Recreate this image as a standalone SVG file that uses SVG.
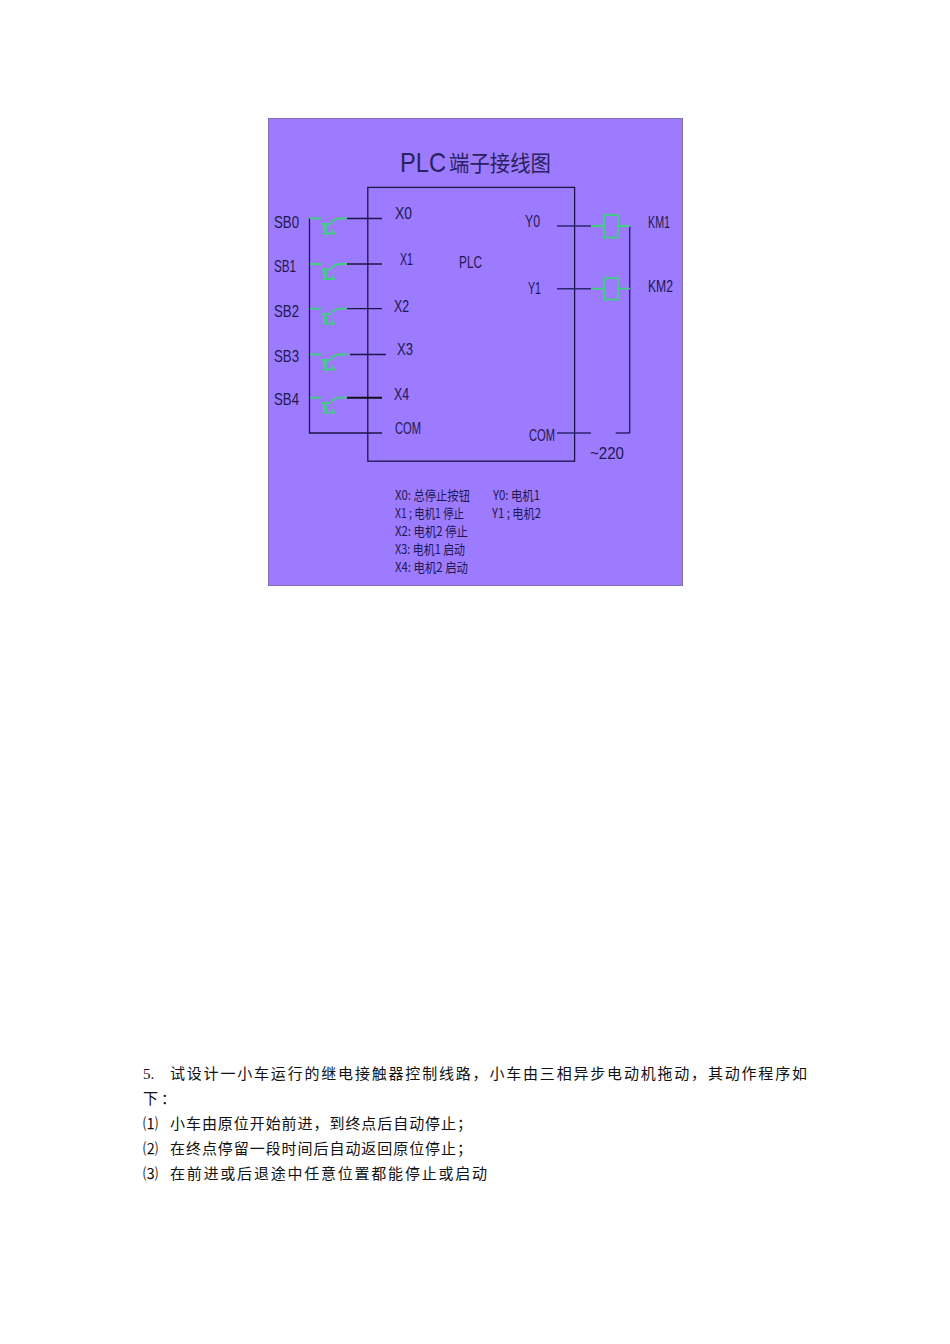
<svg xmlns="http://www.w3.org/2000/svg" width="950" height="1344" viewBox="0 0 950 1344">
<style>
.w{fill:none;stroke:#1c1648;stroke-width:1.3}
.g{fill:none;stroke:#3fd07e;stroke-width:1.8}
.l{font-family:"Liberation Sans","Noto Sans CJK SC",sans-serif;font-size:17px;fill:#1e1850}
.s{font-family:"Noto Sans CJK SC","Liberation Sans",sans-serif;font-size:13px;fill:#1e1850}
.t{font-family:"Liberation Serif","Noto Sans CJK SC",serif;font-size:15px;fill:#111}
</style>
<defs>
<g id="sw">
<path class="g" d="M310 0H321M331 4Q336 0 340 0H347M321 5.5H331M324 5.5V15H335M326 7V13M333 11V15"/>
</g>
</defs>
<rect width="950" height="1344" fill="#fff"/>
<rect id="panel" x="268.5" y="118.5" width="414" height="467" fill="#9c7bff" stroke="#7f70a8"/>
<g id="title" font-size="28" fill="#2a2260">
<text x="400" y="172" font-family="'Liberation Sans',sans-serif" textLength="46" lengthAdjust="spacingAndGlyphs">PLC</text>
<text x="449" y="171" font-family="'Noto Sans CJK SC',sans-serif" font-size="22" textLength="102" lengthAdjust="spacingAndGlyphs">端子接线图</text>
</g>
<g id="plc"><rect class="w" x="367.8" y="187.4" width="206.8" height="273.8"/><text class="l" x="459" y="268" textLength="23" lengthAdjust="spacingAndGlyphs">PLC</text></g>
<g id="connectors">
<path class="w" d="M309.5 218.5V433H382M347 218.5H382M347 264H382M347 308.7H382M350 354.5H386"/>
<path class="w" d="M347 397.7H382" style="stroke-width:2;stroke:#111"/>
<path class="w" d="M557 226H591M557 288.7H591M557 433H591M615.7 433H630M629.7 226V433" style="stroke:#2e2570;stroke-width:1.5"/>
<path class="g" d="M591 226H604M618 226H630M591 288.7H604M618 288.7H630"/>
</g>
<g id="SB0"><use href="#sw" y="218.5"/><text class="l" x="274" y="228" textLength="25" lengthAdjust="spacingAndGlyphs">SB0</text></g>
<g id="SB1"><use href="#sw" y="264"/><text class="l" x="274" y="272" textLength="22" lengthAdjust="spacingAndGlyphs">SB1</text></g>
<g id="SB2"><use href="#sw" y="308.7"/><text class="l" x="274" y="317" textLength="25" lengthAdjust="spacingAndGlyphs">SB2</text></g>
<g id="SB3"><use href="#sw" y="354.5"/><text class="l" x="274" y="362" textLength="25" lengthAdjust="spacingAndGlyphs">SB3</text></g>
<g id="SB4"><use href="#sw" y="397.7"/><text class="l" x="274" y="405" textLength="25" lengthAdjust="spacingAndGlyphs">SB4</text></g>
<g id="terminals">
<text class="l" x="395" y="219" textLength="17" lengthAdjust="spacingAndGlyphs">X0</text>
<text class="l" x="400" y="265" textLength="13" lengthAdjust="spacingAndGlyphs">X1</text>
<text class="l" x="394" y="312" textLength="15" lengthAdjust="spacingAndGlyphs">X2</text>
<text class="l" x="397" y="355" textLength="16" lengthAdjust="spacingAndGlyphs">X3</text>
<text class="l" x="394" y="400" textLength="15" lengthAdjust="spacingAndGlyphs">X4</text>
<text class="l" x="395" y="434" textLength="26" lengthAdjust="spacingAndGlyphs">COM</text>
<text class="l" x="525" y="227" textLength="15" lengthAdjust="spacingAndGlyphs">Y0</text>
<text class="l" x="528" y="294" textLength="13" lengthAdjust="spacingAndGlyphs">Y1</text>
<text class="l" x="529" y="441" textLength="26" lengthAdjust="spacingAndGlyphs">COM</text>
</g>
<g id="KM1"><rect class="g" x="604.3" y="215" width="13.5" height="22.5"/><text class="l" x="648" y="228" textLength="22" lengthAdjust="spacingAndGlyphs">KM1</text></g>
<g id="KM2"><rect class="g" x="604.3" y="278" width="13.5" height="21.5"/><text class="l" x="648" y="292" textLength="25" lengthAdjust="spacingAndGlyphs">KM2</text></g>
<text class="l" x="590" y="459" textLength="34" lengthAdjust="spacingAndGlyphs">~220</text>
<g id="legend">
<text class="s" x="395" y="500" textLength="75" lengthAdjust="spacingAndGlyphs">X0: 总停止按钮</text>
<text class="s" x="395" y="518" textLength="69" lengthAdjust="spacingAndGlyphs">X1 ; 电机1 停止</text>
<text class="s" x="395" y="536" textLength="73" lengthAdjust="spacingAndGlyphs">X2: 电机2 停止</text>
<text class="s" x="395" y="554" textLength="70" lengthAdjust="spacingAndGlyphs">X3: 电机1 启动</text>
<text class="s" x="395" y="572" textLength="73" lengthAdjust="spacingAndGlyphs">X4: 电机2 启动</text>
<text class="s" x="493" y="500" textLength="47" lengthAdjust="spacingAndGlyphs">Y0: 电机1</text>
<text class="s" x="492" y="518" textLength="49" lengthAdjust="spacingAndGlyphs">Y1 ; 电机2</text>
</g>
<g id="body">
<text class="t" x="143" y="1079">5.</text>
<text class="t" x="170" y="1079" textLength="637">试设计一小车运行的继电接触器控制线路，小车由三相异步电动机拖动，其动作程序如</text>
<text class="t" x="143" y="1104" textLength="33">下：</text>
<text class="t" x="143" y="1129" font-size="13">⑴</text>
<text class="t" x="170" y="1129" textLength="302">小车由原位开始前进，到终点后自动停止；</text>
<text class="t" x="143" y="1154" font-size="13">⑵</text>
<text class="t" x="170" y="1154" textLength="302">在终点停留一段时间后自动返回原位停止；</text>
<text class="t" x="143" y="1179" font-size="13">⑶</text>
<text class="t" x="170" y="1179" textLength="317">在前进或后退途中任意位置都能停止或启动</text>
</g>
</svg>
